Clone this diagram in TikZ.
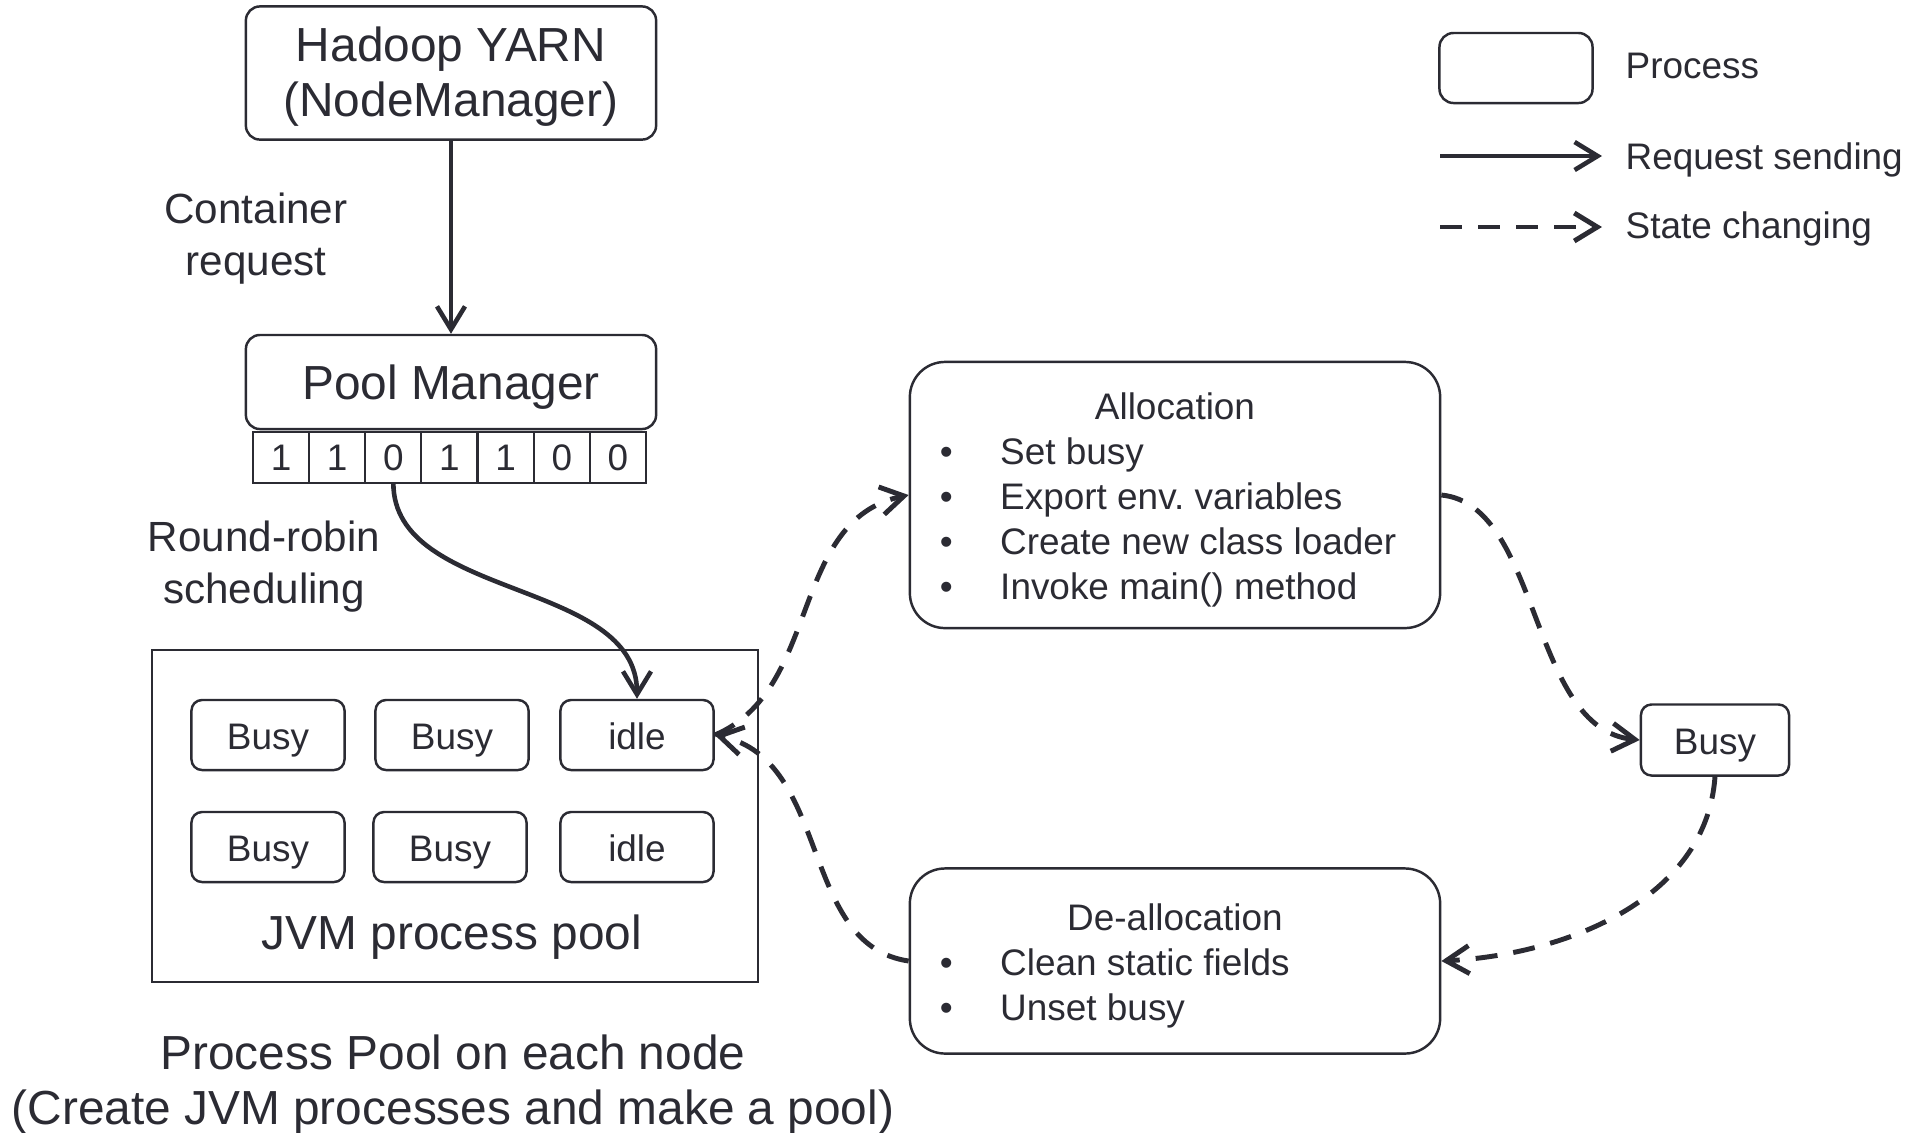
\documentclass[tikz,border=0pt]{standalone}
\usepackage{fontspec}
\setmainfont{Liberation Sans}
\usetikzlibrary{arrows.meta,positioning}
\definecolor{ink}{HTML}{2B2B33}
\tikzset{
  big/.style={font=\fontsize{13.6}{15.6}\selectfont},
  mid/.style={font=\fontsize{10.5}{12.8}\selectfont},
  lbl/.style={text=ink, font=\fontsize{12}{14.8}\selectfont, align=center},
  proc/.style={text=ink, draw=ink, line width=0.7pt, rounded corners=4pt},
  slot/.style={proc, mid, rounded corners=3pt, minimum width=1.53cm, minimum height=0.7cm},
  bit/.style={draw=ink, line width=0.6pt, text=ink, mid, minimum width=0.5614cm, minimum height=0.51cm, inner sep=0pt, outer sep=0pt},
  stage/.style={proc, mid, rounded corners=10pt, minimum width=5.3cm},
  req/.style={-{Straight Barb[length=2.3mm,width=2.8mm]}, line width=1.3pt, draw=ink},
  chg/.style={req, line width=1.4pt, dash pattern=on 2.2mm off 1.6mm},
}
% box text sits slightly below the middle
\newcommand{\dn}[1]{\raisebox{-1.5pt}[\height][\depth]{#1}}
\newcommand{\twolines}[2]{\dn{\begin{tabular}{@{}c@{}}#1\\#2\end{tabular}}}
\newcommand{\stagehead}[1]{\multicolumn{2}{@{}c@{}}{\makebox[4.7cm]{#1}}}

\begin{document}
\frenchspacing
\begin{tikzpicture}[x=0.01cm, y=-0.01cm]
  \useasboundingbox (0,0) rectangle (1920,1132);

  % left column: YARN, pool manager and its bitmap
  \node[proc,big,minimum width=4.1cm,minimum height=1.28cm](yarn) at (451,73){\twolines{Hadoop YARN}{(NodeManager)}};
  \node[proc,big,minimum width=4.1cm,minimum height=0.94cm](pm) at (451,382){\dn{Pool Manager}};
  \foreach \v [count=\i] in {1,1,0,1,1,0,0}{\node[bit](b\i) at ({253+56.14*(\i-0.5)},457.5){\v};}
  \node[lbl](creq) at (256,239){Container\\request};
  \node[lbl](rr) at (264,567){Round-robin\\scheduling};

  % JVM process pool
  \node[draw=ink,line width=0.7pt,minimum width=6.06cm,minimum height=3.32cm](jvm) at (455,816){};
  \foreach \n/\x/\y/\t in {s1/268/735/Busy,s2/452/735/Busy,s3/637/735/idle,s4/268/847/Busy,s5/450/847/Busy,s6/637/847/idle}{
    \node[slot](\n) at (\x,\y){\dn{\vphantom{By}\t}};}
  \node[big,text=ink](jvmname) at (452,937){JVM process pool};
  \node[big,text=ink,align=center](cap) at (453,1085){Process Pool on each node\\(Create JVM processes and make a pool)};

  % state cycle
  \node[stage,minimum height=2.66cm](alloc) at (1175,495){\dn{\begin{tabular}{@{}l@{\hspace{13.5pt}}l@{}}
    \stagehead{Allocation}\\ \textbullet & Set busy\\ \textbullet & Export env. variables\\
    \textbullet & Create new class loader\\ \textbullet & Invoke main() method\end{tabular}}};
  \node[proc,mid,rounded corners=3pt,minimum width=1.48cm,minimum height=0.71cm](busy) at (1715,740){\dn{Busy}};
  \node[stage,minimum height=1.85cm](dealloc) at (1175,961){\dn{\begin{tabular}{@{}l@{\hspace{13.5pt}}l@{}}
    \stagehead{De-allocation}\\ \textbullet & Clean static fields\\ \textbullet & Unset busy\end{tabular}}};

  \draw[req](yarn)--(pm);
  \draw[req](b3.south) .. controls +(0,117) and +(0,-120) .. (s3.north);
  \draw[chg](s3.east) .. controls +(107,-45) and +(-120,25) .. (alloc.west);
  \draw[chg](alloc.east) .. controls +(100,10) and +(-111,-11) .. (busy.west);
  \draw[chg](busy.south) .. controls +(-9,125) and +(120,-6) .. (dealloc.east);
  \draw[chg](dealloc.west) .. controls +(-110,-16) and +(117,25) .. (s3.east);

  % legend
  \node[proc,minimum width=1.53cm,minimum height=0.7cm](lgbox) at (1516,68){};
  \node[mid,text=ink,anchor=west,inner sep=0pt](lgproc) at (1625,66){Process};
  \coordinate (r0) at (1440,156); \coordinate (r1) at (1602,156);
  \coordinate (c0) at (1440,227); \coordinate (c1) at (1602,227);
  \draw[req](r0)--(r1);
  \draw[chg](c0)--(c1);
  \node[mid,text=ink,anchor=west,inner sep=0pt](lgreq) at (1625,160){Request sending};
  \node[mid,text=ink,anchor=west,inner sep=0pt](lgchg) at (1625,229){State changing};
\end{tikzpicture}
\end{document}
